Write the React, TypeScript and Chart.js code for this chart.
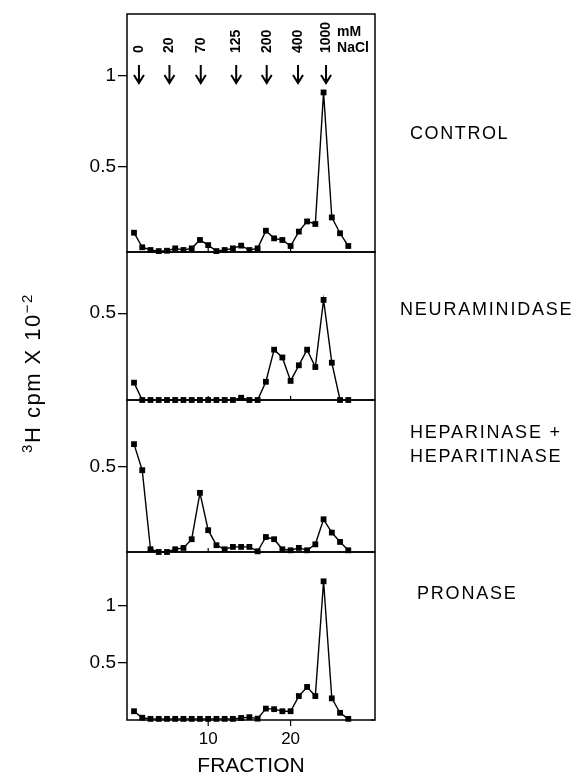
import React, { useEffect, useRef } from "react";
import { Chart, registerables } from "chart.js";

Chart.register(...registerables);

// ---- data ----
const fractions = [1, 2, 3, 4, 5, 6, 7, 8, 9, 10, 11, 12, 13, 14, 15, 16, 17, 18, 19, 20, 21, 22, 23, 24, 25, 26, 27];
const control = [0.139, 0.059, 0.044, 0.038, 0.04, 0.053, 0.044, 0.053, 0.099, 0.071, 0.038, 0.044, 0.053, 0.068, 0.044, 0.053, 0.15, 0.108, 0.099, 0.066, 0.145, 0.201, 0.187, 0.91, 0.223, 0.136, 0.066];
const neuraminidase = [0.1, 0, 0, 0, 0, 0, 0, 0, 0, 0, 0, 0, 0, 0.013, 0, 0, 0.105, 0.29, 0.245, 0.11, 0.2, 0.29, 0.19, 0.577, 0.215, 0, 0];
const heparinase = [0.633, 0.48, 0.016, 0, 0, 0.016, 0.024, 0.075, 0.347, 0.128, 0.04, 0.016, 0.03, 0.03, 0.03, 0.004, 0.088, 0.075, 0.016, 0.01, 0.024, 0.01, 0.045, 0.192, 0.114, 0.059, 0.01];
const pronase = [0.077, 0.02, 0.01, 0.01, 0.01, 0.01, 0.01, 0.01, 0.01, 0.01, 0.01, 0.01, 0.01, 0.018, 0.025, 0.012, 0.1, 0.095, 0.077, 0.077, 0.21, 0.29, 0.21, 1.217, 0.19, 0.063, 0.01];

const panelNames = ["CONTROL", "NEURAMINIDASE", "HEPARINASE +\nHEPARITINASE", "PRONASE"];
const panelTicks = [[0.5, 1], [0.5], [0.5], [0.5, 1]];
const panelMin = [0.033, 0, 0, 0];
const panelMax = [1.341, 0.853, 0.892, 1.474];

const xTicks = [10, 20];
const xMin = 0.15;
const xMax = 30.24;

const arrowFractions = [1.6, 5.3, 9.1, 13.4, 17.1, 20.9, 24.3];
const arrowLabels = ["0", "20", "70", "125", "200", "400", "1000"];
const arrowUnits = ["mM", "NaCl"];

const yTitle = "cpm X 10";
const xTitle = "FRACTION";

// ---- layout (not data) ----
const panelWeights = [238, 148, 152, 168];
const FONT = "'Liberation Sans', Arial, sans-serif";
const yIds = ["y1", "y2", "y3", "y4"];

const framePlugin = {
  id: "frame",
  afterDatasetsDraw(chart: any) {
    const { ctx, chartArea } = chart;
    const xs = chart.scales.x;
    ctx.save();
    ctx.strokeStyle = "#000";
    yIds.forEach((id, k) => {
      const s = chart.scales[id];
      ctx.lineWidth = 1.5;
      ctx.strokeRect(chartArea.left, s.top, chartArea.right - chartArea.left, s.bottom - s.top);
      ctx.lineWidth = 1.2;
      const last = k === yIds.length - 1;
      xTicks.forEach((v) => {
        const px = xs.getPixelForValue(v);
        ctx.beginPath();
        ctx.moveTo(px, s.bottom);
        ctx.lineTo(px, last ? s.bottom + 6 : s.bottom - 4);
        ctx.stroke();
      });
      ctx.beginPath();
      ctx.moveTo(chartArea.right, s.bottom);
      ctx.lineTo(chartArea.right - 4, s.bottom);
      ctx.stroke();
    });
    ctx.restore();
  },
};

const arrowPlugin = {
  id: "arrows",
  afterDraw(chart: any) {
    const { ctx } = chart;
    const xs = chart.scales.x;
    const top = chart.scales.y1.top;
    ctx.save();
    ctx.strokeStyle = "#000";
    ctx.fillStyle = "#000";
    ctx.lineWidth = 2;
    ctx.font = `bold 14px ${FONT}`;
    arrowFractions.forEach((f, i) => {
      const px = xs.getPixelForValue(f);
      const y0 = top + 51;
      const y1 = top + 69;
      ctx.beginPath();
      ctx.moveTo(px, y0);
      ctx.lineTo(px, y1);
      ctx.moveTo(px - 5, y1 - 8);
      ctx.lineTo(px, y1);
      ctx.lineTo(px + 5, y1 - 8);
      ctx.stroke();
      ctx.save();
      ctx.translate(px, top + 39);
      ctx.rotate(-Math.PI / 2);
      ctx.textAlign = "left";
      ctx.textBaseline = "middle";
      ctx.fillText(arrowLabels[i], 0, 0);
      ctx.restore();
    });
    const lastX = xs.getPixelForValue(arrowFractions[arrowFractions.length - 1]);
    ctx.textAlign = "left";
    ctx.textBaseline = "middle";
    arrowUnits.forEach((u, i) => {
      ctx.fillText(u, lastX + 11, top + 18 + i * 16);
    });
    ctx.restore();
  },
};

export default function App() {
  const ref = useRef<HTMLCanvasElement | null>(null);

  useEffect(() => {
    if (!ref.current) return;
    const series = [control, neuraminidase, heparinase, pronase];
    const datasets = series.map((vals, i) => ({
      label: panelNames[i],
      data: fractions.map((f, j) => ({ x: f, y: vals[j] })),
      yAxisID: yIds[i],
      borderColor: "#000",
      backgroundColor: "#000",
      borderWidth: 1.4,
      pointStyle: "rect",
      pointRadius: 4.1,
      pointBorderWidth: 0,
      tension: 0,
      clip: false,
    }));

    const scales: any = {
      x: {
        type: "linear",
        min: xMin,
        max: xMax,
        grid: { display: false },
        border: { display: false },
        ticks: {
          color: "#000",
          font: { family: FONT, size: 17 },
          padding: 1,
        },
        afterBuildTicks: (s: any) => {
          s.ticks = xTicks.map((v) => ({ value: v }));
        },
        afterFit: (s: any) => {
          s.height = 55;
        },
        title: {
          display: true,
          text: xTitle,
          color: "#000",
          font: { family: FONT, size: 21, lineHeight: 0.8 },
          padding: { top: 0, bottom: 0 },
        },
      },
    };
    // stacked axes are laid out with the last-defined on top, so define in reverse
    [...yIds].reverse().forEach((id) => {
      const i = yIds.indexOf(id);
      scales[id] = {
        type: "linear",
        position: "left",
        stack: "panels",
        stackWeight: panelWeights[i],
        min: panelMin[i],
        max: panelMax[i],
        border: { display: false },
        grid: { drawOnChartArea: false, drawTicks: true, tickLength: 9, color: "#000", lineWidth: 1.3 },
        ticks: {
          color: "#000",
          font: { family: FONT, size: 19 },
          padding: 2,
          callback: (v: any) => String(v),
        },
        afterBuildTicks: (s: any) => {
          s.ticks = panelTicks[i].map((v) => ({ value: v }));
        },
        afterFit: (s: any) => {
          s.width = 67;
        },
      };
    });

    const chart = new Chart(ref.current, {
      type: "line",
      data: { datasets },
      options: {
        responsive: false,
        animation: false,
        layout: { padding: { left: 60, right: 203, top: 14, bottom: 0 } },
        plugins: { legend: { display: false }, tooltip: { enabled: false } },
        scales,
      } as any,
      plugins: [framePlugin, arrowPlugin],
    } as any);
    return () => chart.destroy();
  }, []);

  const labelStyle: React.CSSProperties = {
    position: "absolute",
    fontFamily: FONT,
    fontSize: 18,
    lineHeight: "24px",
    letterSpacing: "1.8px",
    color: "#000",
    whiteSpace: "pre",
  };

  return (
    <div style={{ position: "fixed", left: 0, top: 0, width: 578, height: 775, background: "#fff" }}>
      <canvas ref={ref} width={578} height={775} style={{ display: "block", width: 578, height: 775 }} />
      <div style={{ ...labelStyle, left: 410, top: 133 - 12, letterSpacing: "1.6px" }}>{panelNames[0]}</div>
      <div style={{ ...labelStyle, left: 400, top: 309 - 12 }}>{panelNames[1]}</div>
      <div style={{ ...labelStyle, left: 410, top: 432 - 12 }}>{panelNames[2]}</div>
      <div style={{ ...labelStyle, left: 417, top: 593 - 12 }}>{panelNames[3]}</div>
      <div
        style={{
          position: "absolute",
          left: 27 - 110,
          top: 373 - 14,
          width: 220,
          height: 28,
          lineHeight: "28px",
          textAlign: "center",
          transform: "rotate(-90deg)",
          fontFamily: FONT,
          fontSize: 22,
          letterSpacing: "1.5px",
          color: "#000",
          whiteSpace: "nowrap",
        }}
      >
        <sup style={{ fontSize: 15 }}>3</sup>H {yTitle}
        <sup style={{ fontSize: 15 }}>−2</sup>
      </div>
    </div>
  );
}
